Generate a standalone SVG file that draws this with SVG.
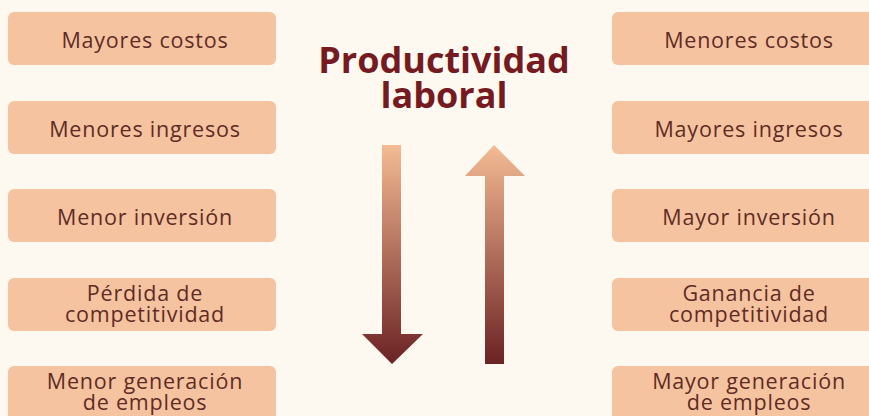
<svg xmlns="http://www.w3.org/2000/svg" width="869" height="416" viewBox="0 0 869 416">
<defs>
<linearGradient id="g" x1="0" y1="0" x2="0" y2="1">
<stop offset="0" stop-color="#f4bb93"/>
<stop offset="1" stop-color="#6b2224"/>
</linearGradient>
<style>
.box{fill:#f6c3a0}
.t{font-family:"Open Sans","Noto Sans",sans-serif;font-size:21.5px;letter-spacing:0.8px;fill:#5e2c25;text-anchor:middle}
.title{font-family:"Open Sans","Noto Sans",sans-serif;font-size:36px;font-weight:bold;fill:#751a20;text-anchor:middle}
</style>
</defs>
<rect width="869" height="416" fill="#fdf8f0"/>
<g id="title"><text class="title" x="444" y="73">Productividad</text><text class="title" x="444" y="108">laboral</text></g>
<g id="L1"><rect class="box" x="8" y="12" width="268" height="53" rx="6"/><text class="t" x="145" y="48">Mayores costos</text></g>
<g id="L2"><rect class="box" x="8" y="101" width="268" height="53" rx="6"/><text class="t" x="145" y="137">Menores ingresos</text></g>
<g id="L3"><rect class="box" x="8" y="189" width="268" height="53" rx="6"/><text class="t" x="145" y="225">Menor inversión</text></g>
<g id="L4"><rect class="box" x="8" y="278" width="268" height="53" rx="6"/><text class="t" x="145" y="301">Pérdida de</text><text class="t" x="145" y="322">competitividad</text></g>
<g id="L5"><rect class="box" x="8" y="366" width="268" height="60" rx="6"/><text class="t" x="145" y="389">Menor generación</text><text class="t" x="145" y="410">de empleos</text></g>
<g id="R1"><rect class="box" x="612" y="12" width="274" height="53" rx="6"/><text class="t" x="749" y="48">Menores costos</text></g>
<g id="R2"><rect class="box" x="612" y="101" width="274" height="53" rx="6"/><text class="t" x="749" y="137">Mayores ingresos</text></g>
<g id="R3"><rect class="box" x="612" y="189" width="274" height="53" rx="6"/><text class="t" x="749" y="225">Mayor inversión</text></g>
<g id="R4"><rect class="box" x="612" y="278" width="274" height="53" rx="6"/><text class="t" x="749" y="301">Ganancia de</text><text class="t" x="749" y="322">competitividad</text></g>
<g id="R5"><rect class="box" x="612" y="366" width="274" height="60" rx="6"/><text class="t" x="749" y="389">Mayor generación</text><text class="t" x="749" y="410">de empleos</text></g>
<g id="connectors">
<polygon fill="url(#g)" points="382,145 401,145 401,334 423,334 392,364 362,334 382,334"/>
<polygon fill="url(#g)" points="494,145 525,176 504,176 504,364 485,364 485,176 465,176"/>
</g>
</svg>
